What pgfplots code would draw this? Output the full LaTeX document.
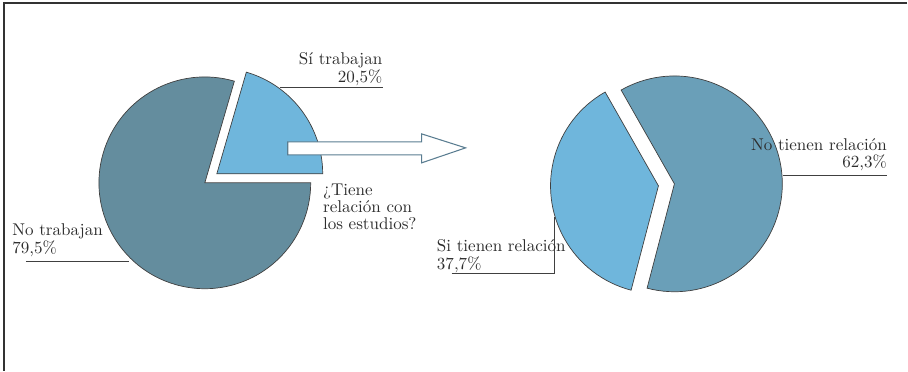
\documentclass[border=0pt]{standalone}
\usepackage{pgfplots}
\usepackage{pgfplotstable}
\pgfplotsset{compat=1.18}
\definecolor{darkSl}{RGB}{100,141,158}
\definecolor{midSl}{RGB}{106,159,184}
\definecolor{lightB}{RGB}{111,182,220}
\definecolor{arrCol}{RGB}{90,125,145}
\definecolor{txt}{RGB}{45,45,45}

% share of graduates who work
\pgfplotstableread{
label value
si 20.5
no 79.5
}\trabajan
% of those who work: related to their studies?
\pgfplotstableread{
label value
si 37.7
no 62.3
}\relacion

\pgfplotstablegetelem{0}{value}\of\trabajan \let\vSi\pgfplotsretval
\pgfplotstablegetelem{0}{value}\of\relacion \let\vRel\pgfplotsretval
\pgfmathsetmacro\aSi{3.6*\vSi}
\pgfmathsetmacro\rStart{119.6}
\pgfmathsetmacro\rEnd{\rStart+3.6*\vRel}
\pgfmathsetmacro\rFull{\rStart+360}

\tikzset{
  slice/.style={draw=black!75,line width=0.4pt},
  lead/.style={draw=black!75,line width=0.55pt},
  lab/.style={font=\fontsize{9.7pt}{10.2pt}\selectfont,text=txt,inner sep=0pt},
}

\begin{document}
\begin{tikzpicture}
\begin{axis}[
  x=0.02cm, y=0.02cm,
  xmin=0, xmax=908, ymin=0, ymax=371,
  hide axis, clip=false,
]
  \path (axis cs:0,0) rectangle (axis cs:908,371);
  % frame
  \draw[black!80,line width=0.9pt] (axis cs:908,368) -- (axis cs:4,368) -- (axis cs:4,0);

  % left pie
  \filldraw[slice,fill=darkSl] (axis cs:205,188) -- ++(\aSi:2.12cm)
     arc[start angle=\aSi, end angle=360, radius=2.12cm] -- cycle;
  \filldraw[slice,fill=lightB] (axis cs:217,197) -- ++(0:2.12cm)
     arc[start angle=0, end angle=\aSi, radius=2.12cm] -- cycle;

  % right pie
  \filldraw[slice,fill=midSl] (axis cs:675,187) -- ++(\rEnd:2.16cm)
     arc[start angle=\rEnd, end angle=\rFull, radius=2.16cm] -- cycle;
  \filldraw[slice,fill=lightB] (axis cs:659,185) -- ++(\rStart:2.16cm)
     arc[start angle=\rStart, end angle=\rEnd, radius=2.16cm] -- cycle;

  % block arrow
  \filldraw[fill=white,draw=arrCol,line width=0.6pt]
    (axis cs:288,229) -- (axis cs:422,229) -- (axis cs:422,237) -- (axis cs:466,223)
    -- (axis cs:422,208) -- (axis cs:422,216) -- (axis cs:288,216) -- cycle;

  % leader lines
  \draw[lead] (axis cs:280,283) -- (axis cs:383,283);
  \draw[lead] (axis cs:26,109) -- (axis cs:129,109);
  \draw[lead] (axis cs:784,195) -- (axis cs:888,195);
  \draw[lead] (axis cs:452,97) -- (axis cs:555,97) -- (axis cs:555,154);

  % labels
  \node[lab,anchor=base east] at (axis cs:383,306) {Sí trabajan};
  \node[lab,anchor=base east] at (axis cs:383,288) {20,5\%};
  \node[lab,anchor=base west] at (axis cs:323,175) {¿Tiene};
  \node[lab,anchor=base west] at (axis cs:323,158) {relación con};
  \node[lab,anchor=base west] at (axis cs:323,141) {los estudios?};
  \node[lab,anchor=base west] at (axis cs:12,135) {No trabajan};
  \node[lab,anchor=base west] at (axis cs:12,117) {79,5\%};
  \node[lab,anchor=base east] at (axis cs:888,220) {No tienen relación};
  \node[lab,anchor=base east] at (axis cs:888,203) {62,3\%};
  \node[lab,anchor=base west] at (axis cs:437,119) {Si tienen relación};
  \node[lab,anchor=base west] at (axis cs:437,101) {37,7\%};
\end{axis}
\end{tikzpicture}
\end{document}
